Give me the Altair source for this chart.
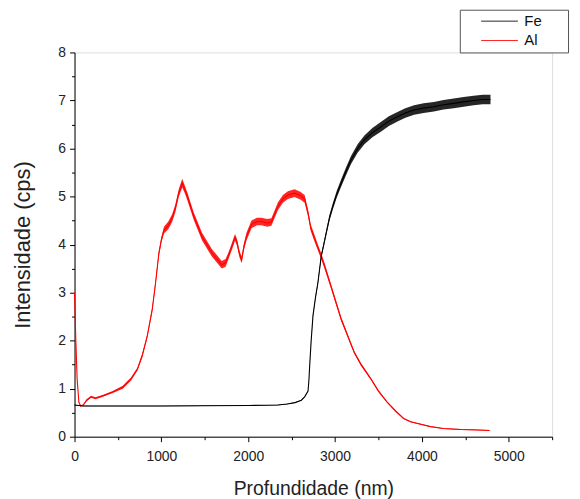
import altair as alt
import pandas as pd

# Al (red) profile: depth (nm), intensity (cps), half-width of the noise band
al_x = [0, 15, 30, 50, 70, 100, 140, 190, 240, 325, 440, 555, 650, 725, 780, 838, 895, 933, 970,
        1000, 1030, 1080, 1124, 1160, 1200, 1240, 1270, 1300, 1371, 1467, 1581, 1695, 1740, 1771,
        1810, 1848, 1870, 1900, 1924, 1950, 1981, 2038, 2100, 2152, 2220, 2267, 2343, 2400, 2457,
        2533, 2600, 2650, 2690, 2720, 2760, 2800, 2840, 2880, 2950, 3070, 3220, 3300, 3410, 3500,
        3600, 3700, 3790, 3870, 3940, 4100, 4250, 4450, 4630, 4780]
al_y = [3.0, 2.0, 1.2, 0.72, 0.64, 0.66, 0.76, 0.83, 0.80, 0.85, 0.93, 1.03, 1.2, 1.41, 1.69, 2.1,
        2.65, 3.2, 3.8, 4.1, 4.3, 4.4, 4.55, 4.75, 5.07, 5.28, 5.15, 5.0, 4.6, 4.17, 3.83, 3.58,
        3.62, 3.76, 3.95, 4.15, 4.05, 3.8, 3.68, 3.95, 4.17, 4.42, 4.48, 4.48, 4.45, 4.47, 4.8,
        4.95, 5.03, 5.07, 5.02, 4.95, 4.65, 4.35, 4.15, 3.95, 3.76, 3.55, 3.15, 2.45, 1.76, 1.5,
        1.21, 0.95, 0.72, 0.53, 0.38, 0.31, 0.28, 0.21, 0.17, 0.15, 0.14, 0.13]
al_n = [0.01, 0.01, 0.01, 0.01, 0.01, 0.01, 0.02, 0.02, 0.02, 0.02, 0.02, 0.03, 0.03, 0.03, 0.04,
        0.04, 0.05, 0.05, 0.06, 0.06, 0.07, 0.08, 0.08, 0.08, 0.08, 0.09, 0.08, 0.08, 0.08, 0.08,
        0.08, 0.08, 0.08, 0.07, 0.07, 0.07, 0.07, 0.07, 0.07, 0.07, 0.08, 0.08, 0.08, 0.08, 0.08,
        0.08, 0.08, 0.08, 0.08, 0.08, 0.08, 0.08, 0.07, 0.07, 0.07, 0.06, 0.06, 0.06, 0.05, 0.04,
        0.03, 0.03, 0.02, 0.02, 0.015, 0.015, 0.01, 0.01, 0.01, 0.008, 0.008, 0.008, 0.008, 0.008]

# Fe (black) profile
fe_x = [0, 100, 500, 1000, 1500, 2000, 2343, 2450, 2540, 2612, 2650, 2689, 2700, 2708, 2725, 2746,
        2775, 2803, 2841, 2870, 2898, 2935, 2975, 3020, 3070, 3125, 3184, 3260, 3338, 3430, 3527,
        3620, 3719, 3810, 3910, 4020, 4138, 4250, 4367, 4480, 4596, 4700, 4790]
fe_y = [0.66, 0.64, 0.64, 0.64, 0.645, 0.65, 0.66, 0.68, 0.71, 0.76, 0.83, 0.95, 1.2, 1.48, 2.0,
        2.52, 2.9, 3.21, 3.76, 4.0, 4.24, 4.55, 4.8, 5.05, 5.28, 5.52, 5.76, 6.0, 6.18, 6.33, 6.45,
        6.57, 6.66, 6.74, 6.8, 6.84, 6.87, 6.91, 6.94, 6.97, 7.0, 7.02, 7.02]
fe_n = [0.004, 0.004, 0.004, 0.004, 0.004, 0.004, 0.004, 0.004, 0.005, 0.005, 0.005, 0.008, 0.01,
        0.015, 0.02, 0.025, 0.03, 0.035, 0.04, 0.045, 0.05, 0.06, 0.065, 0.07, 0.075, 0.08, 0.085,
        0.09, 0.09, 0.095, 0.1, 0.1, 0.1, 0.1, 0.1, 0.1, 0.1, 0.1, 0.1, 0.1, 0.1, 0.1, 0.1]

x_ticks = [0, 500, 1000, 1500, 2000, 2500, 3000, 3500, 4000, 4500, 5000, 5500]
y_ticks = [0, 0.5, 1, 1.5, 2, 2.5, 3, 3.5, 4, 4.5, 5, 5.5, 6, 6.5, 7, 7.5, 8]

rows = []
for name, xs_, ys_, ns_ in [("Al", al_x, al_y, al_n), ("Fe", fe_x, fe_y, fe_n)]:
    for i, (x, y, n) in enumerate(zip(xs_, ys_, ns_)):
        rows.append({"serie": name, "depth": x, "val": y, "lo": max(y - n, 0), "hi": y + n, "ord": i})
df = pd.DataFrame(rows)

FONT = "Liberation Sans"

x_axis = alt.Axis(
    values=x_ticks, title="Profundidade (nm)", grid=False,
    labelExpr="datum.value % 1000 === 0 ? format(datum.value, 'd') : ''",
    tickSize={"condition": {"test": "datum.value % 1000 === 0", "value": 5}, "value": 3},
    labelPadding=8, titlePadding=16, labelFontSize=14, titleFontSize=19.5,
    labelFont=FONT, titleFont=FONT, titleFontWeight="normal",
    labelColor="#222", titleColor="#222", domainColor="black", tickColor="black",
    labelFlush=False, labelOverlap=False,
)
y_axis = alt.Axis(
    values=y_ticks, title="Intensidade (cps)", grid=False,
    labelExpr="datum.value % 1 === 0 ? format(datum.value, 'd') : ''",
    tickSize={"condition": {"test": "datum.value % 1 === 0", "value": 5}, "value": 3},
    labelPadding=4, titlePadding=24, labelFontSize=14, titleFontSize=22,
    labelFont=FONT, titleFont=FONT, titleFontWeight="normal",
    labelColor="#222", titleColor="#222", domainColor="black", tickColor="black",
    labelFlush=False, labelOverlap=False,
)

xs = alt.Scale(domain=[0, 5500], nice=False, zero=False)
ys = alt.Scale(domain=[0, 8], nice=False)
color_scale = alt.Scale(domain=["Fe", "Al"], range=["#000000", "#ff0000"])

pad = "\u2800\u2800"
legend = alt.Legend(
    title=None, orient="none", legendX=388, legendY=-43,
    symbolType="M2,0H9.4", symbolSize=100, symbolStrokeWidth=1,
    labelOffset=46, labelFontSize=15, labelFont=FONT, labelColor="#111",
    padding=4, rowPadding=3.5, strokeColor="#555", fillColor="white",
    labelExpr="datum.label + '" + pad + "'",
)

base = alt.Chart(df)

band = base.mark_area(opacity=0.85).encode(
    x=alt.X("depth:Q", scale=xs, axis=x_axis),
    y=alt.Y("lo:Q", scale=ys, axis=y_axis, stack=None),
    y2=alt.Y2("hi:Q"),
    color=alt.Color("serie:N", scale=color_scale, legend=legend),
)

lines = base.mark_line(strokeWidth=1.1).encode(
    x=alt.X("depth:Q", scale=xs, axis=x_axis),
    y=alt.Y("val:Q", scale=ys, axis=y_axis),
    color=alt.Color("serie:N", scale=color_scale, legend=legend),
    order="ord:Q",
)

chart = alt.layer(band, lines).properties(
    width=481, height=387,
    padding={"left": 67, "top": 43, "right": 20, "bottom": 62},
    autosize=alt.AutoSizeParams(type="none"),
).configure_view(stroke=None).configure(background="white")

chart.save("out.html", embed_options={"renderer": "svg", "actions": False})
